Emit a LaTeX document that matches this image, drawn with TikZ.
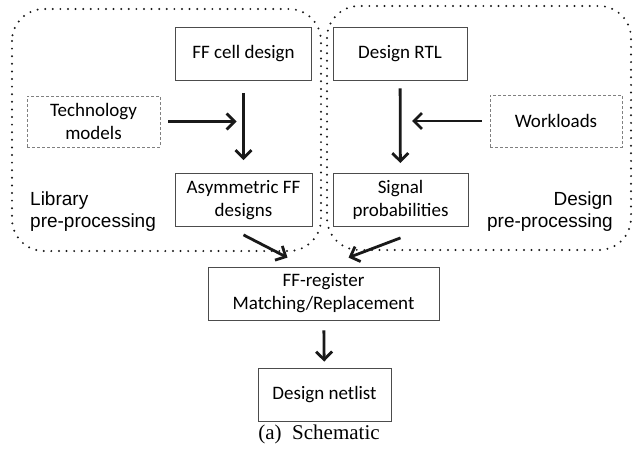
\documentclass[tikz,border=0pt]{standalone}
\usepackage{fontspec}
\setmainfont{Carlito}
\newfontfamily\regionfont{Liberation Sans}
\newfontfamily\captionfont{Liberation Serif}
\usetikzlibrary{arrows.meta}

\begin{document}
\begin{tikzpicture}[x=1pt,y=-1pt,
  box/.style={draw=black!70, line width=0.8pt, align=center, inner sep=0pt,
    minimum width=136pt, minimum height=53pt, font=\fontsize{19}{23}\selectfont},
  inputbox/.style={box, draw=black!50, dash pattern=on 3pt off 2pt},
  flow/.style={-{Straight Barb[length=8pt,width=16pt]}, line width=2.8pt, black!90},
  region/.style={draw=black!90, line width=2.2pt, line cap=round,
    dash pattern=on 0pt off 7.6pt, rounded corners=32pt},
  regionlabel/.style={font=\regionfont\fontsize{19}{22}\selectfont, inner sep=0pt}]

  % Canvas of the reference size
  \useasboundingbox (0,0) rectangle (634,458);

  % The two pre-processing regions
  \draw[region] (12,9) rectangle (321,251);
  \draw[region] (327,6) rectangle (631,250);

  % Library side
  \node[box] (ffcell) at (243.5,54) {FF cell design};
  \node[inputbox, minimum width=133pt, minimum height=51pt] (tech) at (93.5,121.5) {Technology\\models};
  \node[box, minimum width=137pt] (asym) at (243.5,200) {Asymmetric FF\\designs};
  \node[regionlabel, anchor=west, align=left] (liblabel) at (30,212) {Library\\pre-processing};

  % Design side
  \node[box, minimum width=134pt] (rtl) at (400,53.5) {Design RTL};
  \node[inputbox, minimum width=132pt, minimum height=52pt] (work) at (556,121) {Workloads};
  \node[box, minimum width=135pt] (signal) at (400.5,200) {Signal\\probabilities};
  \node[regionlabel, anchor=east, align=right] (deslabel) at (613,212) {Design\\pre-processing};

  % Matching and output
  \node[box, minimum width=231pt] (ffreg) at (323.5,293.5) {FF-register\\Matching/Replacement};
  \node[box, minimum width=133pt] (netlist) at (324.5,394.5) {Design netlist};

  % Caption
  \node[font=\captionfont\fontsize{21}{25}\selectfont] (caption) at (319,434) {(a)\enspace Schematic};

  % Points where the side inputs meet the vertical arrows
  \coordinate (techin) at (ffcell.south |- tech.east);
  \coordinate (workin) at (rtl.south |- work.west);

  % Arrows
  \draw[flow, shorten <=12pt, shorten >=13pt] (ffcell) -- (asym);
  \draw[flow, shorten <=8pt, shorten >=7pt] (tech) -- (techin);
  \draw[flow, shorten <=8pt, shorten >=10pt] (rtl) -- (signal);
  \draw[flow, shorten <=8pt, shorten >=12pt] (work) -- (workin);
  \draw[flow] ([yshift=-8pt]asym.south) -- ([xshift=-36pt,yshift=9pt]ffreg.north);
  \draw[flow] ([yshift=-11pt]signal.south) -- ([xshift=25pt,yshift=9pt]ffreg.north);
  \draw[flow, shorten <=10pt, shorten >=6pt] (ffreg) -- (netlist);

\end{tikzpicture}
\end{document}
